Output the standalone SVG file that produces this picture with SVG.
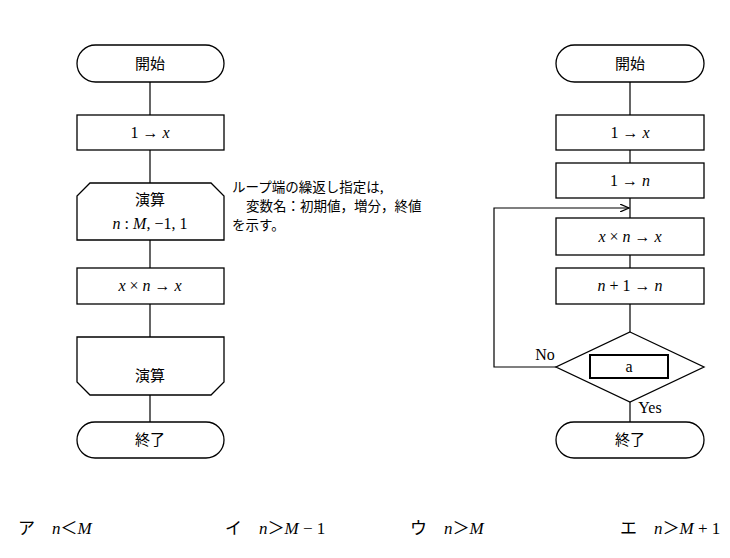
<svg xmlns="http://www.w3.org/2000/svg" width="730" height="558" viewBox="0 0 730 558">
<style>
.s{fill:#fff;stroke:#000;stroke-width:1.3}
.l{fill:none;stroke:#000;stroke-width:1.2}
.t{font-family:"Liberation Serif","Noto Sans CJK JP",serif;font-size:16px;text-anchor:middle}
.j{font-family:"Noto Sans CJK JP",sans-serif;font-size:15px;text-anchor:middle}
.a{font-family:"Noto Sans CJK JP",sans-serif;font-size:13.5px}
.o{font-family:"Liberation Serif","Noto Sans CJK JP",serif;font-size:17px}
</style>
<defs><marker id="ar" markerWidth="10" markerHeight="8" refX="9" refY="4" orient="auto" markerUnits="userSpaceOnUse"><path d="M0,0 L9,4 L0,8" fill="none" stroke="#000" stroke-width="1.2"/></marker></defs>
<g id="connectors">
<path class="l" d="M150,82V115M150,150V183M150,240V268M150,304V337M150,395V422"/>
<path class="l" d="M630,82V115M630,150V163M630,198V218M630,255V268M630,304V332M630,402V422"/>
<path class="l" d="M556,367H494V208H629" marker-end="url(#ar)"/>
</g>
<g id="L_start"><rect class="s" x="77" y="45" width="147" height="37" rx="18.5"/><text class="j" x="150" y="69">開始</text></g>
<g id="L_init"><rect class="s" x="77" y="115" width="147" height="35"/><text class="t" x="150" y="138">1 → <tspan font-style="italic">x</tspan></text></g>
<g id="L_loopstart"><path class="s" d="M90,183H211L224,196V240H77V196Z"/><text class="j" x="150" y="205">演算</text><text class="t" x="150" y="229"><tspan font-style="italic">n</tspan> : <tspan font-style="italic">M</tspan>, −1, 1</text></g>
<g id="L_mul"><rect class="s" x="77" y="268" width="147" height="36"/><text class="t" x="150" y="291"><tspan font-style="italic">x</tspan> × <tspan font-style="italic">n</tspan> → <tspan font-style="italic">x</tspan></text></g>
<g id="L_loopend"><path class="s" d="M77,337H224V382L211,395H90L77,382Z"/><text class="j" x="150" y="381">演算</text></g>
<g id="L_end"><rect class="s" x="77" y="422" width="147" height="36" rx="18"/><text class="j" x="150" y="445">終了</text></g>
<g id="note"><text class="a" x="232" y="192">ループ端の繰返し指定は,</text><text class="a" x="246" y="211">変数名：初期値，増分，終値</text><text class="a" x="232" y="230">を示す。</text></g>
<g id="R_start"><rect class="s" x="556" y="45" width="148" height="37" rx="18.5"/><text class="j" x="630" y="69">開始</text></g>
<g id="R_x"><rect class="s" x="556" y="115" width="148" height="35"/><text class="t" x="630" y="138">1 → <tspan font-style="italic">x</tspan></text></g>
<g id="R_n"><rect class="s" x="556" y="163" width="148" height="35"/><text class="t" x="630" y="186">1 → <tspan font-style="italic">n</tspan></text></g>
<g id="R_mul"><rect class="s" x="556" y="218" width="148" height="37"/><text class="t" x="630" y="242"><tspan font-style="italic">x</tspan> × <tspan font-style="italic">n</tspan> → <tspan font-style="italic">x</tspan></text></g>
<g id="R_inc"><rect class="s" x="556" y="268" width="148" height="36"/><text class="t" x="630" y="291"><tspan font-style="italic">n</tspan> + 1 → <tspan font-style="italic">n</tspan></text></g>
<g id="R_dec"><path class="s" d="M630,332L704,367L630,402L556,367Z"/><rect fill="#fff" stroke="#000" stroke-width="2" x="590" y="355" width="78" height="23"/><text class="t" x="629" y="372">a</text><text class="t" x="545" y="360">No</text><text class="t" x="650" y="413">Yes</text></g>
<g id="R_end"><rect class="s" x="556" y="422" width="148" height="36" rx="18"/><text class="j" x="630" y="445">終了</text></g>
<g id="options">
<text class="o" x="18" y="534">ア　<tspan font-style="italic">n</tspan>＜<tspan font-style="italic">M</tspan></text>
<text class="o" x="225" y="534">イ　<tspan font-style="italic">n</tspan>＞<tspan font-style="italic">M</tspan> − 1</text>
<text class="o" x="410" y="534">ウ　<tspan font-style="italic">n</tspan>＞<tspan font-style="italic">M</tspan></text>
<text class="o" x="620" y="534">エ　<tspan font-style="italic">n</tspan>＞<tspan font-style="italic">M</tspan> + 1</text>
</g>
</svg>
